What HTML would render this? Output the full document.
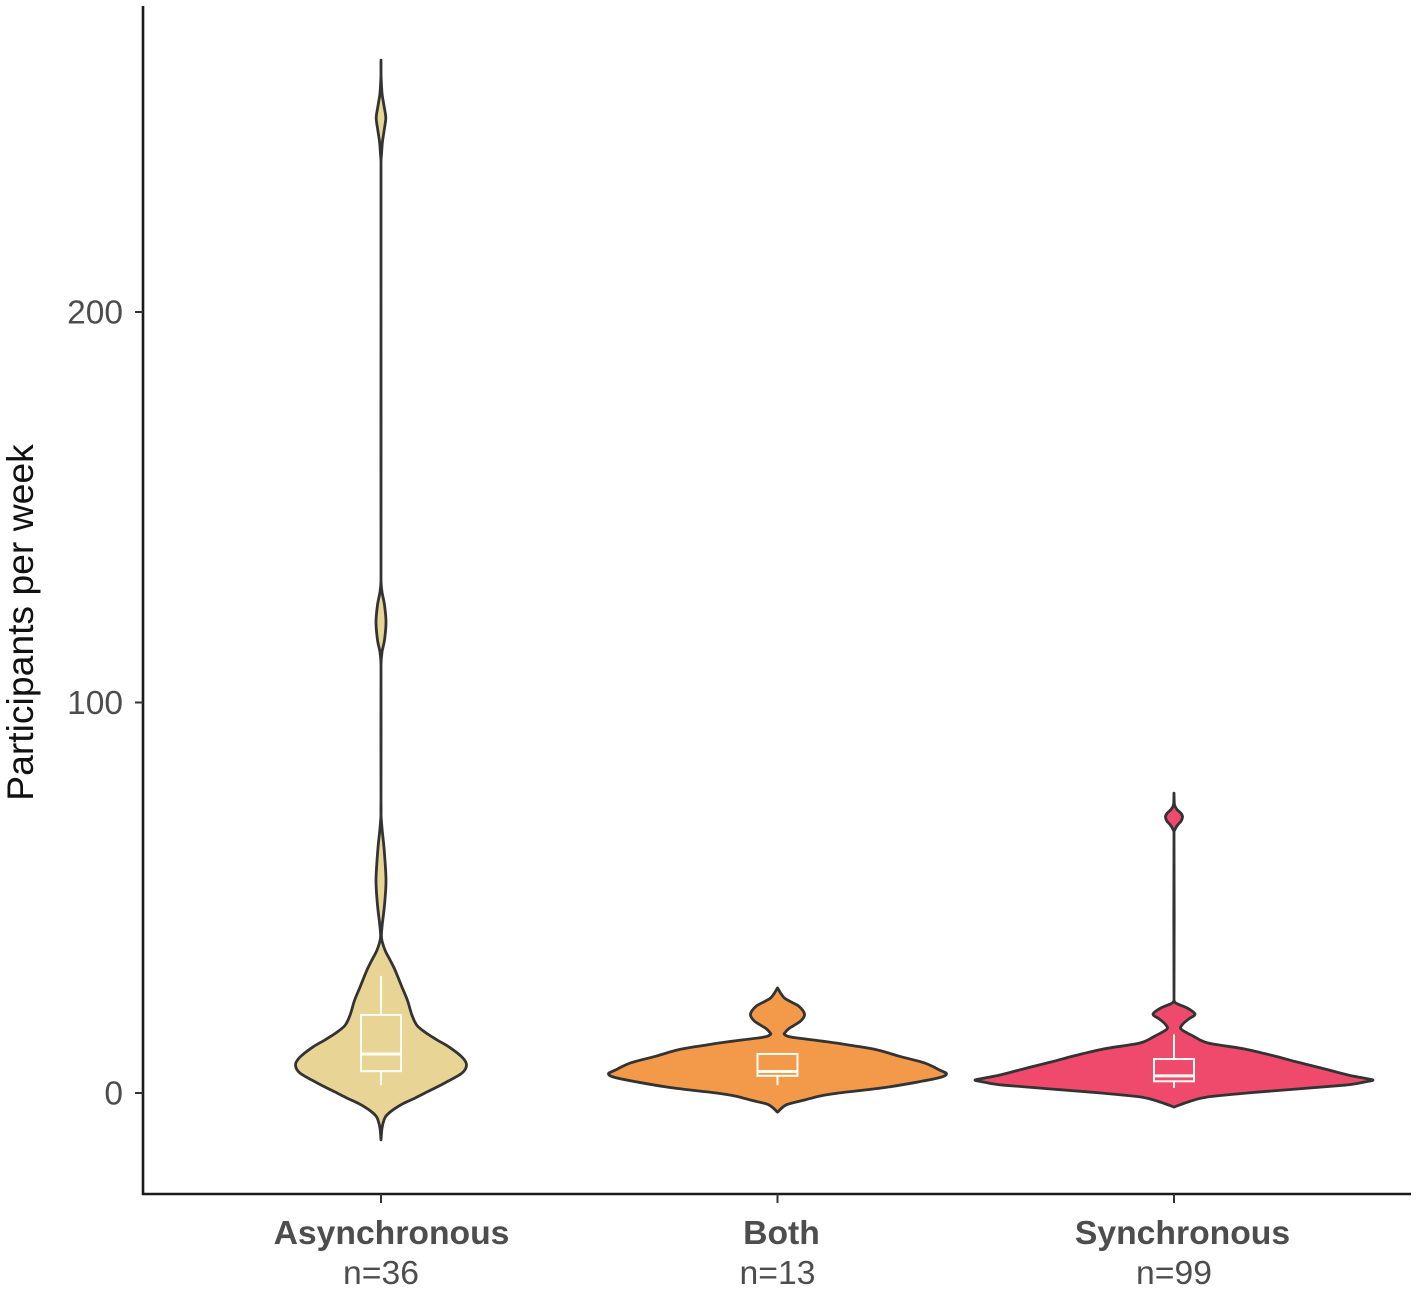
<!DOCTYPE html>
<html lang="en">
<head>
<meta charset="utf-8">
<title>Participants per week violin plot</title>
<style>
html,body{margin:0;padding:0;background:#fff;}
svg{display:block;font-family:"Liberation Sans",Arial,sans-serif;}
</style>
</head>
<body>
<svg id="chart" width="1418" height="1292" viewBox="0 0 1418 1292" xmlns="http://www.w3.org/2000/svg">
  <rect width="1418" height="1292" fill="#fff"></rect>
  <g id="marks"></g>
  <line x1="143" y1="6" x2="143" y2="1195" stroke="#1a1a1a" stroke-width="2.6"></line>
  <line x1="142" y1="1194" x2="1411" y2="1194" stroke="#1a1a1a" stroke-width="2.6"></line>
  <g id="axes"></g>
  <text transform="translate(33,622.5) rotate(-90)" text-anchor="middle" font-size="37.3" fill="#111">Participants per week</text>
</svg>
<script>
const categories = ["Asynchronous", "Both", "Synchronous"];
const counts = ["n=36", "n=13", "n=99"];
const yTicks = [0, 100, 200];
const fills = ["#E8D595", "#F29A4A", "#EF4A6B"];

const asyncLevels = [264.5,261,258,255.6,252.5,249.7,246.6,243.5,240.7,238.5,203,131.4,128.3,125,120.6,116,112.9,109.6,75,71.2,67.3,62.2,54.5,48.1,43,39.7,36.6,34.1,31.5,27.1,23.7,19.9,17.3,15.4,13.6,11.8,9.2,7.2,5.1,2.6,0,-1.3,-2.6,-3.8,-4.9,-5.9,-6.9,-9,-12];
const asyncDensity = [0,0,0.005,0.012,0.032,0.048,0.032,0.014,0.006,0,0,0,0.01,0.035,0.05,0.035,0.01,0,0,0,0.012,0.032,0.05,0.035,0.012,0.005,0.04,0.09,0.14,0.21,0.265,0.31,0.36,0.45,0.56,0.68,0.81,0.855,0.81,0.64,0.44,0.34,0.23,0.15,0.09,0.05,0.03,0.01,0];

const bothLevels = [26.9,24.3,22.3,20.2,18.4,16.6,15.6,15,14.3,13.3,12.7,11.2,9.4,7.7,5.9,4.9,3.8,1.5,0,-0.8,-1.8,-3,-4.9];
const bothDensity = [0,0.07,0.21,0.27,0.23,0.12,0.08,0.07,0.14,0.44,0.61,0.97,1.22,1.47,1.62,1.69,1.60,1.10,0.61,0.42,0.27,0.09,0];

const syncLevels = [76.8,73.8,72.6,71.6,70.7,69.6,68.6,67.6,66.8,24,23,21.8,20.2,19,17.7,16.4,14.6,12.8,11.3,9.5,8,6.4,4.6,3.8,3.3,2.8,2,0.3,-1,-2.3,-3.6];
const syncDensity = [0,0.005,0.03,0.07,0.085,0.07,0.035,0.012,0,0,0.02,0.13,0.21,0.15,0.09,0.07,0.19,0.34,0.70,1.00,1.22,1.47,1.74,1.90,1.99,1.90,1.70,0.87,0.34,0.14,0];

const boxLow = [2, 2, 1.3];
const boxQ1 = [5.6, 4.4, 3];
const boxMedian = [10, 5.5, 4.4];
const boxQ3 = [20, 10, 8.7];
const boxHigh = [30, 10, 15];

const violinLevels = [asyncLevels, bothLevels, syncLevels];
const violinDensity = [asyncDensity, bothDensity, syncDensity];

const NS = "http://www.w3.org/2000/svg";
function xScale(i){ return 381 + i * 396.5; }
function yScale(v){ return 1093 - v * 3.905; }
function wScale(d){ return d * 100; }

function make(parent, tag, attrs){
  const el = document.createElementNS(NS, tag);
  for (const k in attrs) el.setAttribute(k, attrs[k]);
  parent.appendChild(el);
  return el;
}

function handle(a, b, segDy){
  const t = 0.15;
  let hx = (b[0] - a[0]) * t, hy = (b[1] - a[1]) * t;
  const lim = Math.abs(segDy) * 0.4;
  if (Math.abs(hy) > lim && hy !== 0){
    const s = lim / Math.abs(hy);
    hx *= s; hy *= s;
  }
  return [hx, hy];
}

function smooth(pts){
  let d = "M" + pts[0][0].toFixed(2) + " " + pts[0][1].toFixed(2);
  for (let i = 0; i < pts.length - 1; i++){
    const p0 = pts[Math.max(i - 1, 0)], p1 = pts[i], p2 = pts[i + 1], p3 = pts[Math.min(i + 2, pts.length - 1)];
    const dy = p2[1] - p1[1];
    const h1 = handle(p0, p2, dy), h2 = handle(p1, p3, dy);
    const c1x = p1[0] + h1[0], c1y = p1[1] + h1[1];
    const c2x = p2[0] - h2[0], c2y = p2[1] - h2[1];
    d += "C" + c1x.toFixed(2) + " " + c1y.toFixed(2) + " " + c2x.toFixed(2) + " " + c2y.toFixed(2) + " " + p2[0].toFixed(2) + " " + p2[1].toFixed(2);
  }
  return d;
}

const marks = document.getElementById("marks");
const axes = document.getElementById("axes");

categories.forEach(function(cat, i){
  const cx = xScale(i);
  const levels = violinLevels[i];
  const dens = violinDensity[i];
  const pts = [];
  levels.forEach(function(v, j){ pts.push([cx + wScale(dens[j]), yScale(v)]); });
  const right = smooth(pts);
  const leftPts = [];
  for (let j = levels.length - 1; j >= 0; j--){ leftPts.push([cx - wScale(dens[j]), yScale(levels[j])]); }
  const left = smooth(leftPts).replace(/^M[^C]*/, "L" + leftPts[0][0].toFixed(2) + " " + leftPts[0][1].toFixed(2));

  const slug = cat.toLowerCase();

  const violin = make(marks, "path", {d: right + left + "Z", fill: fills[i], stroke: "#333333", "stroke-width": 2.8, "stroke-linejoin": "round"});
  
  

  const whisker = make(marks, "path", {
    d: "M" + cx + " " + yScale(boxHigh[i]) + "V" + yScale(boxQ3[i]) + "M" + cx + " " + yScale(boxQ1[i]) + "V" + yScale(boxLow[i]),
    stroke: "#fffdf5", "stroke-width": 2, fill: "none"
  });
  
  

  const box = make(marks, "rect", {
    x: cx - 20, y: yScale(boxQ3[i]), width: 40, height: yScale(boxQ1[i]) - yScale(boxQ3[i]),
    fill: "none", stroke: "#fffdf5", "stroke-width": 2
  });
  
  

  const median = make(marks, "line", {
    x1: cx - 20, x2: cx + 20, y1: yScale(boxMedian[i]), y2: yScale(boxMedian[i]),
    stroke: "#fffdf5", "stroke-width": 3
  });
  
  

  const tick = make(axes, "line", {x1: cx, x2: cx, y1: 1194, y2: 1203, stroke: "#333", "stroke-width": 2});
  
  

  const label = make(axes, "text", {x: cx + [10.5, 4, 8.5][i], y: 1244, "text-anchor": "middle", "font-size": 33.7, "font-weight": "bold", fill: "#4d4d4d"});
  label.textContent = cat;
  
  

  const count = make(axes, "text", {x: cx, y: 1284, "text-anchor": "middle", "font-size": 33.7, fill: "#4d4d4d"});
  count.textContent = counts[i];
  
  
});

yTicks.forEach(function(v){
  const tick = make(axes, "line", {x1: 135, x2: 143, y1: yScale(v), y2: yScale(v), stroke: "#333", "stroke-width": 2});
  
  

  const label = make(axes, "text", {x: 123, y: yScale(v) + 11.5, "text-anchor": "end", "font-size": 33.5, fill: "#4d4d4d"});
  label.textContent = v;
  
  
});
</script>
</body>
</html>
